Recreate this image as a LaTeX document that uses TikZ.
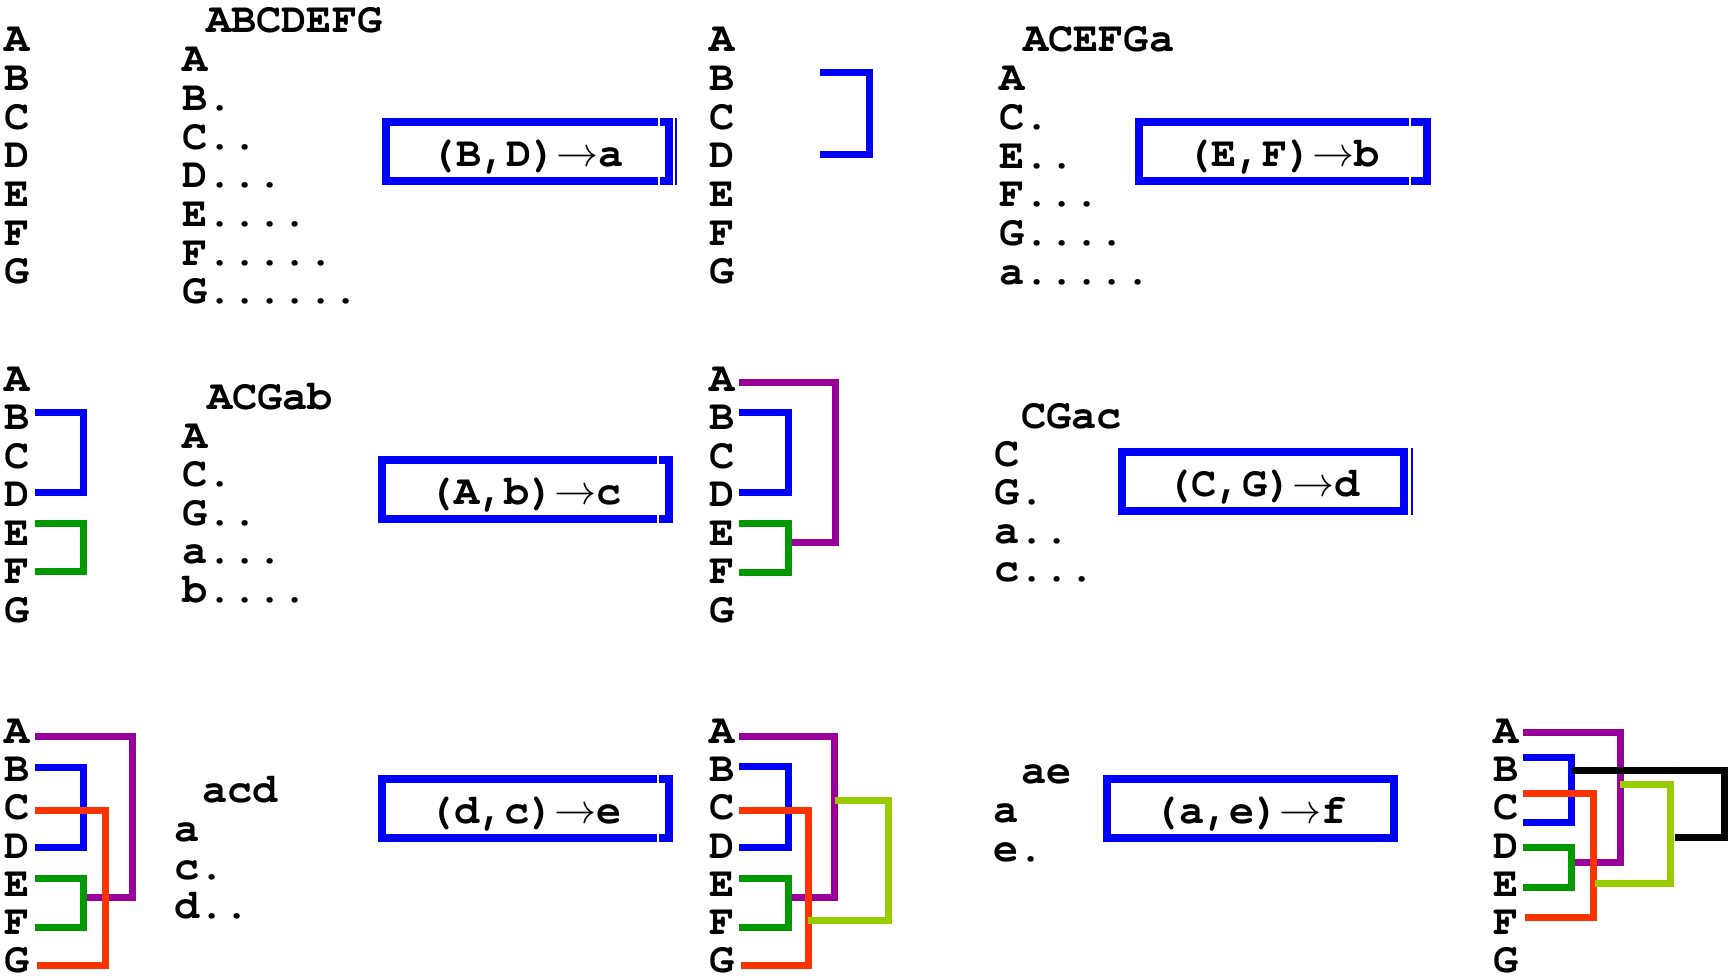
\documentclass[tikz,border=0pt]{standalone}
\usepackage{fontspec}
\newfontfamily\cur{texgyrecursor-bold.otf}
\newfontfamily\arr{latinmodern-math.otf}
\definecolor{cblue}{HTML}{0000FF}
\definecolor{cpurple}{HTML}{990099}
\definecolor{cgreen}{HTML}{009900}
\definecolor{corange}{HTML}{FF3300}
\definecolor{clime}{HTML}{99CC00}

% bracket: from (x1,ytop) right to xv, down to ybot, back left to x2
\newcommand\brk[6]{\draw[link,#1] (#2,#3) -| (#4,#5) -- (#6,#5);}
% column of the seven leaves A..G
\newcommand\leaves[4]{%
  \foreach \t [count=\i from 0] in {A,B,C,D,E,F,G}
    \node[lab] (#1\t) at (#2,{#3+\i*#4}) {\t};}
% one row of a listing: name, x, baseline, text
\newcommand\row[4]{\node[lab] (#1) at (#2,#3) {#4};}
% the merge arrow
\newcommand\mergeto{{\arr →}}

\begin{document}
\begin{tikzpicture}[x=1pt,y=-1pt,
  lab/.style={inner sep=0pt,outer sep=0pt,anchor=base west,
    font=\cur\fontsize{42}{42}\selectfont},
  link/.style={line width=7pt,line join=miter},
  rulebox/.style={draw=cblue,line width=8pt,inner sep=0pt,
    minimum height=59pt,text height=35pt,text depth=6pt,
    font=\cur\fontsize{42}{42}\selectfont},
  gap/.style={draw=white,line width=2pt},
  edge/.style={draw=cblue,line width=1.5pt}]
\useasboundingbox (0,0) rectangle (1728,979);

% ---------------- row 1 ----------------
\leaves{ua}{5}{52}{38.6}
\row{uah}{206}{33}{ABCDEFG}
\row{ual0}{182}{72}{A}
\row{ual1}{182}{110.6}{B.}
\row{ual2}{182}{149.2}{C..}
\row{ual3}{182}{187.8}{D...}
\row{ual4}{182}{226.4}{E....}
\row{ual5}{182}{265}{F.....}
\row{ual6}{182}{303.6}{G......}
\node[rulebox,minimum width=283pt] (ra) at (527.5,151.5) {(B,D)\mergeto a};
\draw[gap] (659,116) -- (659,187);
\draw[edge] (676,118) -- (676,185);

\leaves{ub}{709}{52}{38.6}
\brk{cblue}{820}{73}{869}{154}{820}
\row{ubh}{1023}{52}{ACEFGa}
\row{ubl0}{999}{91}{A}
\row{ubl1}{999}{129.6}{C.}
\row{ubl2}{999}{168.2}{E..}
\row{ubl3}{999}{206.8}{F...}
\row{ubl4}{999}{245.4}{G....}
\row{ubl5}{999}{284}{a.....}
\node[rulebox,minimum width=288pt] (rb) at (1283,151.5) {(E,F)\mergeto b};
\draw[gap] (1410,116) -- (1410,187);

% ---------------- row 2 ----------------
\leaves{ma}{5}{391}{38.5}
\brk{cblue}{35}{412}{83}{492}{35}
\brk{cgreen}{35}{523}{83}{571}{35}
\row{mah}{207}{409}{ACGab}
\row{mal0}{182}{448}{A}
\row{mal1}{182}{486.5}{C.}
\row{mal2}{182}{525}{G..}
\row{mal3}{182}{563.5}{a...}
\row{mal4}{182}{602}{b....}
\node[rulebox,minimum width=287pt] (rc) at (525.5,489.5) {(A,b)\mergeto c};
\draw[gap] (658,454) -- (658,525);

\leaves{mb}{709}{391}{38.5}
\brk{cpurple}{739}{382}{835}{542}{788}
\brk{cblue}{739}{412}{788}{492}{739}
\brk{cgreen}{739}{523}{788}{572}{739}
\row{mbh}{1021}{428}{CGac}
\row{mbl0}{994}{466}{C}
\row{mbl1}{994}{504.5}{G.}
\row{mbl2}{994}{543}{a..}
\row{mbl3}{994}{581.5}{c...}
\node[rulebox,minimum width=282pt] (rd) at (1263,481.5) {(C,G)\mergeto d};
\draw[edge] (1412,448) -- (1412,515);

% ---------------- row 3 ----------------
\leaves{la}{5}{743}{38.33}
\brk{cpurple}{35}{736}{132}{897}{85}
\brk{cblue}{35}{767}{83}{847}{35}
\brk{corange}{35}{810}{105}{965}{37}
\brk{cgreen}{35}{878}{83}{927}{35}
\row{lah}{202}{802}{acd}
\row{lal0}{174}{841}{a}
\row{lal1}{174}{879.5}{c.}
\row{lal2}{174}{918}{d..}
\node[rulebox,minimum width=287pt] (re) at (525.5,808.5) {(d,c)\mergeto e};
\draw[gap] (658,773) -- (658,844);

\leaves{lb}{709}{743}{38.33}
\brk{cpurple}{739}{736}{834}{897}{789}
\brk{cblue}{739}{766}{788}{847}{739}
\brk{corange}{739}{810}{808}{965}{741}
\brk{cgreen}{739}{878}{788}{927}{739}
\brk{clime}{835}{800}{888}{920}{808}
\row{lbh}{1021}{783}{ae}
\row{lbl0}{993}{822}{a}
\row{lbl1}{993}{861}{e.}
\node[rulebox,minimum width=287pt] (rf) at (1250.5,808.5) {(a,e)\mergeto f};

\leaves{lc}{1493}{743}{38.33}
\brk{cpurple}{1523}{732}{1620}{862}{1573}
\brk{cblue}{1523}{757}{1571}{822}{1523}
\brk{corange}{1523}{793}{1593}{917}{1525}
\brk{cgreen}{1523}{847}{1571}{887}{1523}
\brk{clime}{1620}{784}{1670}{883}{1595}
\brk{black}{1572}{770}{1724}{837}{1675}
\end{tikzpicture}
\end{document}
